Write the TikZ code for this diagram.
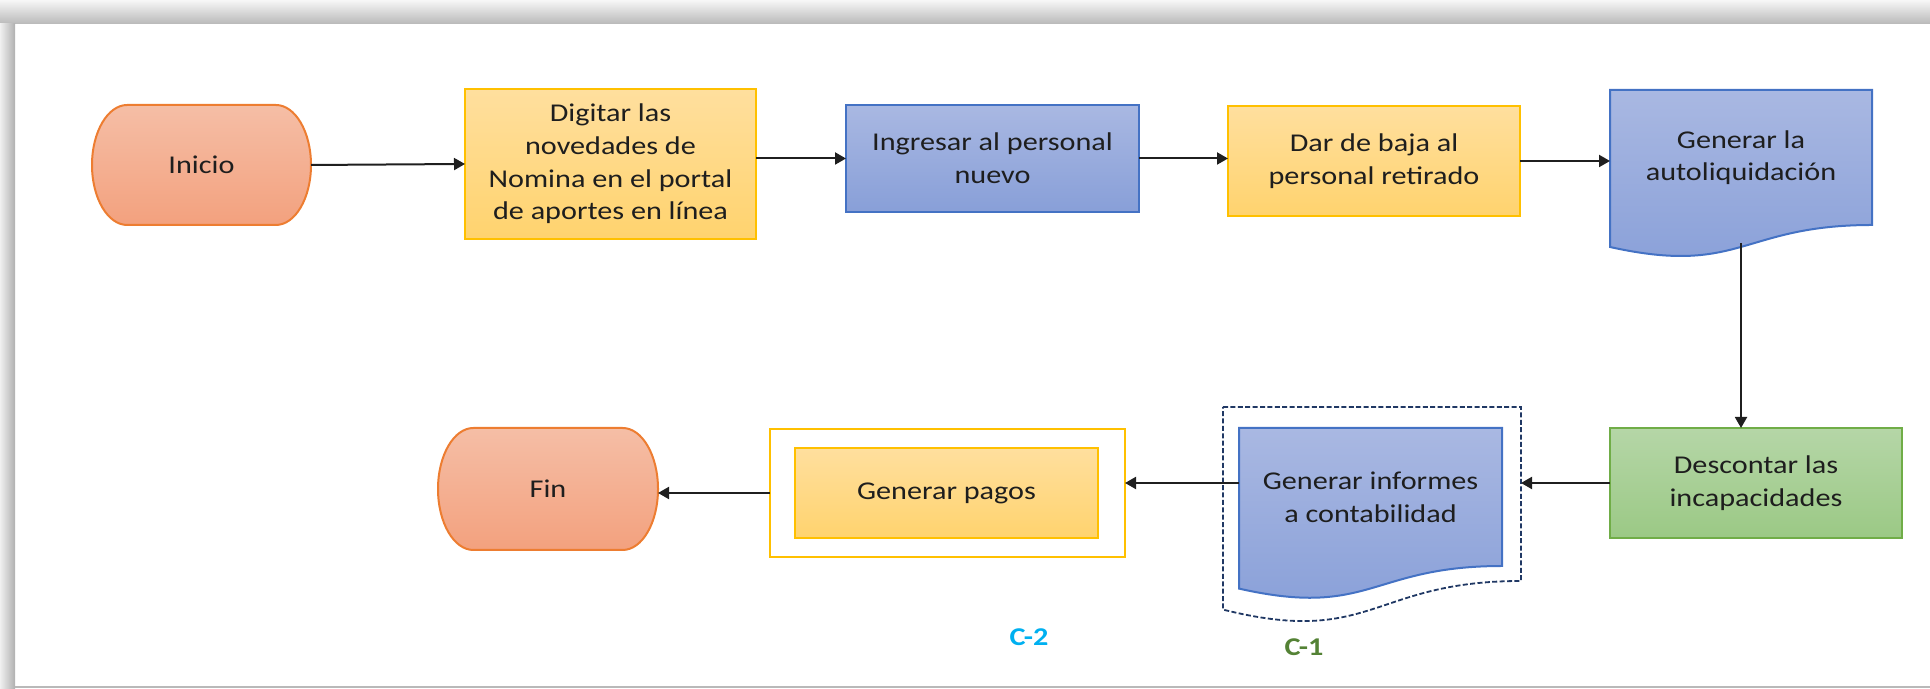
\documentclass[tikz,border=0pt]{standalone}
\usepackage{fontspec}
\setmainfont{Carlito}[FakeStretch=1.18]
\usetikzlibrary{arrows.meta,calc,backgrounds}

\definecolor{txtc}{HTML}{1E1E1E}
\definecolor{otop}{HTML}{F5BEA6}
\definecolor{obot}{HTML}{F3A17E}
\definecolor{obord}{HTML}{ED7D31}
\definecolor{ytop}{HTML}{FFDF9E}
\definecolor{ybot}{HTML}{FFD36E}
\definecolor{ybord}{HTML}{FFC000}
\definecolor{btop}{HTML}{A9B8E2}
\definecolor{bbot}{HTML}{889FD8}
\definecolor{bbord}{HTML}{4472C4}
\definecolor{gtop}{HTML}{B5D6A7}
\definecolor{gbot}{HTML}{9BC985}
\definecolor{gbord}{HTML}{70AD47}
\definecolor{navy}{HTML}{203864}
\definecolor{c2col}{HTML}{00B0F0}
\definecolor{c1col}{HTML}{548235}

% terminator outline around a text node: node, x radius, y radius, options
\newcommand\termshape[4]{%
  \path[#4] ($(#1.north west)+(#2,0)$) -- ($(#1.north east)+(-#2,0)$)
    arc[start angle=90, end angle=-90, x radius=#2, y radius=#3]
    -- ($(#1.south west)+(#2,0)$)
    arc[start angle=270, end angle=90, x radius=#2, y radius=#3] -- cycle;}
% document outline with a wavy foot: node, left drop, control drop, options
\newcommand\docshape[4]{%
  \path[#4] (#1.north west) -- (#1.north east) -- (#1.south east)
    .. controls (#1.south) and ($(#1.south)+(0,-#3)$) .. ($(#1.south west)+(0,-#2)$)
    -- cycle;}

\begin{document}
\begin{tikzpicture}[x=0.5pt,y=0.5pt,
  lbl/.style={font=\fontsize{12.8pt}{16.3pt}\selectfont, text=txtc, align=center,
              inner sep=0pt, outer sep=0pt},
  box/.style={lbl, rectangle, line width=1pt},
  yellowbox/.style={box, draw=ybord, top color=ytop, bottom color=ybot},
  bluebox/.style={box, draw=bbord, top color=btop, bottom color=bbot},
  greenbox/.style={box, draw=gbord, top color=gtop, bottom color=gbot},
  shell/.style={lbl, rectangle},
  flow/.style={-{Triangle[length=5.5pt,width=6pt]}, line width=1pt, draw=black!88},
  tag/.style={font=\fontsize{12.8pt}{15pt}\selectfont\bfseries, inner sep=0pt},
]
\useasboundingbox (0,0) rectangle (1930,689);

% text holders and plain boxes
\node[shell, minimum width=109.5pt, minimum height=60pt] (inicio) at (201.5,524) {Inicio};
\node[yellowbox, minimum width=145.5pt, minimum height=75pt] (digitar) at (610.5,525)
  {Digitar las\\novedades de\\Nomina en el portal\\de aportes en línea};
\node[bluebox, minimum width=146.5pt, minimum height=53.5pt] (ingresar) at (992.5,530.5)
  {Ingresar al personal\\nuevo};
\node[yellowbox, minimum width=146pt, minimum height=55pt] (baja) at (1374,528)
  {Dar de baja al\\personal retirado};
\node[shell, minimum width=131pt, minimum height=67.5pt] (autoliq) at (1741,531.5)
  {Generar la\\autoliquidación};
\node[greenbox, minimum width=146pt, minimum height=55pt] (descontar) at (1756,206)
  {Descontar las\\incapacidades};
\node[shell, minimum width=149pt, minimum height=87pt] (c1out) at (1372,195) {};
\node[shell, minimum width=131.5pt, minimum height=69pt] (informes) at (1370.5,192)
  {Generar informes\\a contabilidad};
\node[draw=ybord, line width=0.9pt, fill=white, minimum width=177.5pt, minimum height=64pt,
      inner sep=0pt, outer sep=0pt] (pagosout) at (947.5,196) {};
\node[yellowbox, minimum width=151.5pt, minimum height=45pt] (pagos) at (946.5,196) {Generar pagos};
\node[shell, minimum width=110pt, minimum height=61pt] (fin) at (548,200) {Fin};
\node[tag, text=c2col] (c2) at (1029,52) {C-2};
\node[tag, text=c1col] (c1) at (1304,42) {C-1};

\coordinate (autoliqtip) at ($(autoliq.south)+(0,-9pt)$);

\begin{pgfonlayer}{background}
  % page frame
  \shade[top color=gray!6, bottom color=gray!55] (0,665) rectangle (1930,689);
  \shade[left color=gray!12, right color=gray!62] (0,0) rectangle (15,665);
  \draw[gray!55, line width=1pt] (15,1.5) -- (1930,1.5);
  % outlines
  \termshape{inicio}{17.6pt}{30pt}{draw=obord, line width=1pt, top color=otop, bottom color=obot}
  \termshape{fin}{17.7pt}{30.5pt}{draw=obord, line width=1pt, top color=otop, bottom color=obot}
  \docshape{autoliq}{11pt}{25.6pt}{draw=bbord, line width=1pt, top color=btop, bottom color=bbot}
  \docshape{informes}{11.3pt}{26.2pt}{draw=bbord, line width=1pt, top color=btop, bottom color=bbot}
  \docshape{c1out}{14.3pt}{33pt}{draw=navy, line width=0.9pt, dash pattern=on 2.5pt off 1.2pt}
\end{pgfonlayer}

% connectors
\draw[flow] (inicio.east) -- (digitar.west);
\draw[flow] (digitar.east |- ingresar.west) -- (ingresar.west);
\draw[flow] (ingresar.east) -- (ingresar.east -| baja.west);
\draw[flow] (baja.east) -- (baja.east -| autoliq.west);
\draw[flow] (autoliqtip) -- (autoliqtip |- descontar.north);
\draw[flow] (descontar.west) -- (descontar.west -| c1out.east);
\draw[flow] (descontar.west -| informes.west) -- (descontar.west -| pagosout.east);
\draw[flow] (pagosout.west) -- (pagosout.west -| fin.east);
\end{tikzpicture}
\end{document}
